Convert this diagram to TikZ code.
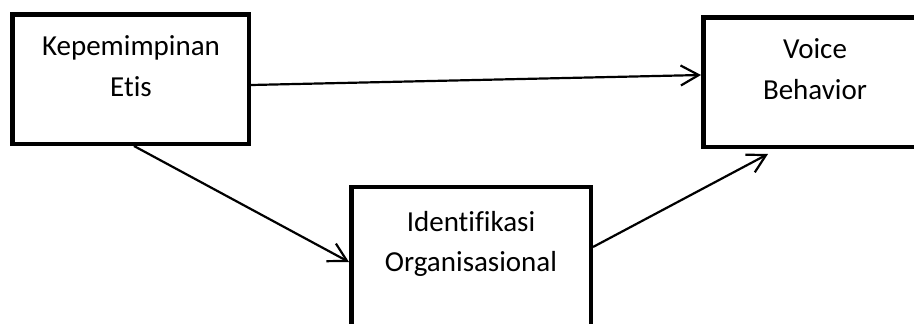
\documentclass[tikz,border=0pt]{standalone}
\usepackage{fontspec}
\setmainfont{Carlito}[Ligatures=NoCommon]
\usetikzlibrary{arrows.meta}
\begin{document}
\begin{tikzpicture}[x=1pt,y=1pt,
  box/.style={draw, line width=4.5pt, inner sep=0pt},
  txt/.style={font=\fontsize{29}{35}\selectfont, inner sep=0pt, anchor=base},
  conn/.style={line width=2.2pt, -{Straight Barb[length=18pt,width=20pt]}}]
\useasboundingbox (0,0) rectangle (914,-324);
\node[box, minimum width=236.5pt, minimum height=129.5pt] (k) at (130.5,-79) {};
\node[box, minimum width=223.5pt, minimum height=129.5pt] (v) at (815,-82) {};
\node[box, minimum width=239.5pt, minimum height=152.75pt] (o) at (471,-263.6) {};
\node[txt] (k1) at (131,-55.5) {Kepemimpinan};
\node[txt] (k2) at (131,-96.5) {Etis};
\node[txt] (v1) at (815,-58.5) {Voice};
\node[txt] (v2) at (815,-99) {Behavior};
\node[txt] (o1) at (471,-231.5) {Identifikasi};
\node[txt] (o2) at (471,-271) {Organisasional};
\draw[conn] ([yshift=-6pt]k.east) -- ([yshift=7pt]v.west);
\draw[conn] ([xshift=3.5pt]k.south) -- ([yshift=1.6pt]o.west);
\draw[conn] ([yshift=16.6pt]o.east) -- ([xshift=-47pt,yshift=-5pt]v.south);
\end{tikzpicture}
\end{document}
